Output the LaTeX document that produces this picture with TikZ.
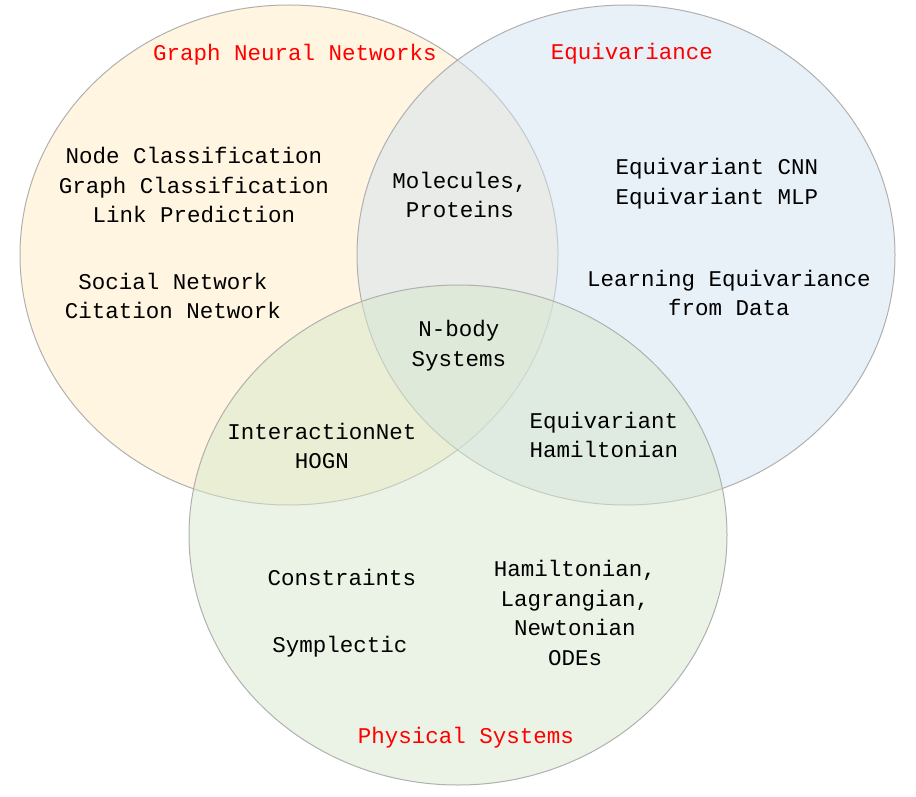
\documentclass[tikz,border=0pt]{standalone}
\usepackage{fontspec}
\setmonofont{Liberation Mono}
\usetikzlibrary{calc}
\definecolor{gnnfill}{RGB}{255,235,193}
\definecolor{eqfill}{RGB}{209,225,241}
\definecolor{physfill}{RGB}{214,232,203}
\definecolor{rimgray}{RGB}{176,176,176}
\tikzset{
  setring/.style={draw=rimgray, line width=1pt, fill opacity=0.5},
  topic/.style={font=\ttfamily\fontsize{22.5}{29.8}\selectfont, align=center, text=black},
  title/.style={font=\ttfamily\fontsize{22.5}{29.8}\selectfont, text=red},
}

\begin{document}
\begin{tikzpicture}[x=1pt, y=-1pt]
			%%%%% START %%%%%
			
			\useasboundingbox (0, 0) rectangle (916, 797);
			
			\draw[setring, fill=gnnfill] (289, 255) ellipse (269 and 250);
			\draw[setring, fill=eqfill] (626, 255) ellipse (269 and 250);
			\draw[setring, fill=physfill] (458, 535) ellipse (269 and 250);
			
			\node[title] (gnn) at (295, 55) {Graph Neural Networks};
			\node[title] (equi) at (632, 54) {Equivariance};
			\node[title] (phys) at (466, 738) {Physical Systems};
			
			\node[topic] (tasks) at (194, 185) {Node Classification\\Graph Classification\\Link Prediction};
			\node[topic] (nets) at (173, 296) {Social Network\\Citation Network};
			\node[topic] (mol) at (460, 195) {Molecules,\\Proteins};
			\node[topic] (eqnn) at (717, 184) {Equivariant CNN\\Equivariant MLP};
			\node[topic] (learn) at (729, 293) {Learning Equivariance\\from Data};
			\node[topic] (nbody) at (459, 346) {N-body\\Systems};
			\node[topic] (inet) at (322, 446) {InteractionNet\\HOGN};
			\node[topic] (eqham) at (604, 435) {Equivariant\\Hamiltonian};
			\node[topic] (constr) at (342, 577) {Constraints};
			\node[topic] (sympl) at (340, 647) {Symplectic};
			\node[topic] (odes) at (575, 613) {Hamiltonian,\\Lagrangian,\\Newtonian\\ODEs};
			
			%%%%% END %%%%%
\end{tikzpicture}
\end{document}
